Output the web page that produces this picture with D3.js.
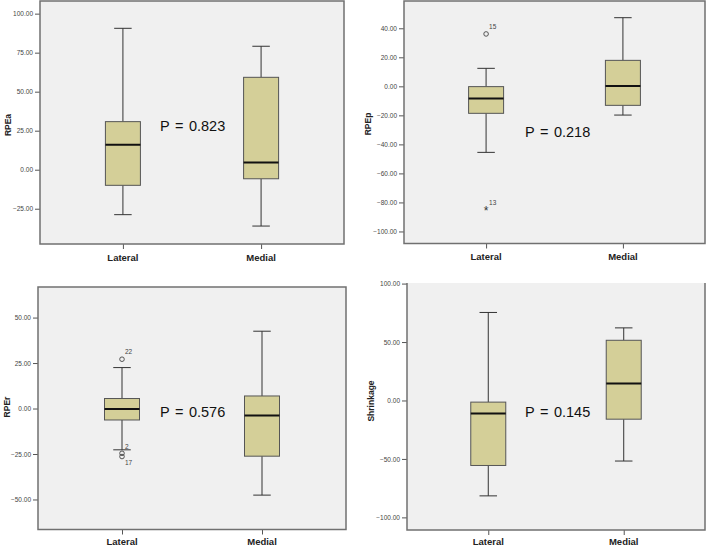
<!DOCTYPE html>
<html><head><meta charset="utf-8">
<script src="https://cdn.jsdelivr.net/npm/d3@7"></script>
<style>body{margin:0;background:#fff}svg{display:block}</style>
</head><body><svg id="c" width="709" height="546"></svg>
<script>
const groups = ["Lateral", "Medial"];
// [min whisker, Q1, median, Q3, max whisker]
const rpeaStats = [[-28.8, -10.0, 16.0, 30.8, 90.6], [-36.1, -5.8, 4.7, 59.2, 79.1]];
const rpepStats = [[-45.5, -18.6, -8.3, -0.2, 12.4], [-19.8, -13.1, 0.2, 17.9, 47.3]];
const rperStats = [[-22.7, -6.3, -0.2, 5.5, 22.5], [-47.6, -26.2, -3.8, 6.9, 42.5]];
const shrinkStats = [[-81.6, -55.6, -11.2, -1.4, 75.3], [-51.8, -16.0, 14.6, 51.5, 62.1]];
const rpeaOutliers = [];
const rpepOutliers = [{group: "Lateral", value: 36.1, label: "15", kind: "circle"}, {group: "Lateral", value: -85.3, label: "13", kind: "star"}];
const rperOutliers = [{group: "Lateral", value: 27.1, label: "22", kind: "circle"}, {group: "Lateral", value: -24.6, label: "2", kind: "circle"}, {group: "Lateral", value: -26.4, label: "17", kind: "circle"}];
const shrinkOutliers = [];
const rpeaTicks = [-25, 0, 25, 50, 75, 100];
const rpepTicks = [-100, -80, -60, -40, -20, 0, 20, 40];
const rperTicks = [-50, -25, 0, 25, 50];
const shrinkTicks = [-100, -50, 0, 50, 100];
const titles = ["RPEa", "RPEp", "RPEr", "Shrinkage"];
const pValues = ["P = 0.823", "P = 0.218", "P = 0.576", "P = 0.145"];

const panels = [
  {stats: rpeaStats, out: rpeaOutliers, ticks: rpeaTicks, title: titles[0], p: pValues[0],
   l: 40, r: 344, t: 1, b: 244, dom: [-47.6, 108.1], topLine: true, px: 160, py: 126, tx: 8, ty: 125, xly: 261},
  {stats: rpepStats, out: rpepOutliers, ticks: rpepTicks, title: titles[1], p: pValues[1],
   l: 404, r: 705, t: 1, b: 243.5, dom: [-108.3, 58.8], topLine: true, px: 525, py: 131.5, tx: 368, ty: 124, xly: 260},
  {stats: rperStats, out: rperOutliers, ticks: rperTicks, title: titles[2], p: pValues[2],
   l: 38, r: 346, t: 287, b: 529.5, dom: [-66.5, 66.8], topLine: true, px: 160, py: 411.5, tx: 7, ty: 407, xly: 545},
  {stats: shrinkStats, out: shrinkOutliers, ticks: shrinkTicks, title: titles[3], p: pValues[3],
   l: 407, r: 705, t: 283, b: 530, dom: [-110.8, 100.5], topLine: false, px: 525, py: 411.5, tx: 371, ty: 401, xly: 545}
];

const svg = d3.select("#c");
const boxW = 35;
const fmt = d3.format(".2f");

panels.forEach(P => {
  const g = svg.append("g");
  const y = d3.scaleLinear().domain(P.dom).range([P.b, P.t]);
  const x = d3.scalePoint().domain(groups).range([P.l, P.r]).padding(0.6);

  g.append("rect").attr("x", P.l).attr("y", P.t).attr("width", P.r - P.l).attr("height", P.b - P.t)
    .attr("fill", "#f0f0f0");

  const ya = g.append("g").attr("transform", `translate(${P.l},0)`)
    .call(d3.axisLeft(y).tickValues(P.ticks).tickFormat(fmt).tickSize(5).tickPadding(2));
  ya.select(".domain").remove();
  ya.selectAll("line").attr("stroke", "#555");
  ya.selectAll("text").attr("font-family", "Liberation Sans, Arial, sans-serif").attr("font-size", 6.5).attr("fill", "#444");

  const xa = g.append("g").attr("transform", `translate(0,${P.b})`)
    .call(d3.axisBottom(x).tickSize(5).tickPadding(3));
  xa.select(".domain").remove();
  xa.selectAll("line").attr("stroke", "#555");
  xa.selectAll("text").remove();
  groups.forEach(gr => {
    g.append("text").attr("x", x(gr)).attr("y", P.xly).attr("text-anchor", "middle")
      .attr("font-family", "Liberation Sans, Arial, sans-serif").attr("font-size", 9.5).attr("font-weight", "bold")
      .attr("fill", "#222").text(gr);
  });

  const fr = P.topLine ? `M${P.l},${P.t}H${P.r}V${P.b}H${P.l}Z` : `M${P.l},${P.t}V${P.b}H${P.r}V${P.t}`;
  g.append("path").attr("d", fr).attr("fill", "none").attr("stroke", "#707070").attr("stroke-width", 1.5);

  g.append("text").attr("transform", `translate(${P.tx},${P.ty}) rotate(-90)`).attr("text-anchor", "middle")
    .attr("dominant-baseline", "central")
    .attr("font-family", "Liberation Sans, Arial, sans-serif").attr("font-size", 8.5).attr("font-weight", "bold")
    .attr("fill", "#222").text(P.title);

  groups.forEach((gr, i) => {
    const s = P.stats[i];
    const cx = x(gr);
    g.append("line").attr("x1", cx).attr("x2", cx).attr("y1", y(s[4])).attr("y2", y(s[3])).attr("stroke", "#333");
    g.append("line").attr("x1", cx).attr("x2", cx).attr("y1", y(s[1])).attr("y2", y(s[0])).attr("stroke", "#333");
    [s[0], s[4]].forEach(v => g.append("line").attr("x1", cx - boxW / 4).attr("x2", cx + boxW / 4)
      .attr("y1", y(v)).attr("y2", y(v)).attr("stroke", "#333"));
    g.append("rect").attr("x", cx - boxW / 2).attr("y", y(s[3])).attr("width", boxW).attr("height", y(s[1]) - y(s[3]))
      .attr("fill", "#d4cf98").attr("stroke", "#555").attr("stroke-width", 1);
    g.append("line").attr("x1", cx - boxW / 2).attr("x2", cx + boxW / 2).attr("y1", y(s[2])).attr("y2", y(s[2]))
      .attr("stroke", "#111").attr("stroke-width", 2);
  });

  P.out.forEach(o => {
    const cx = x(o.group), cy = y(o.value);
    if (o.kind === "circle") {
      g.append("circle").attr("cx", cx).attr("cy", cy).attr("r", 2.3).attr("fill", "none").attr("stroke", "#444").attr("stroke-width", 0.9);
    } else {
      g.append("text").attr("x", cx).attr("y", cy + 5).attr("text-anchor", "middle")
        .attr("font-family", "Liberation Sans, Arial, sans-serif").attr("font-size", 12).attr("fill", "#333").text("*");
    }
  });
  P.out.forEach(o => {
    const cx = x(o.group), cy = y(o.value);
    let dy = -5;
    if (o.label === "17") dy = 8;
    if (o.label === "2") dy = -4;
    g.append("text").attr("x", cx + 3).attr("y", cy + dy)
      .attr("font-family", "Liberation Sans, Arial, sans-serif").attr("font-size", 6.5).attr("fill", "#444").text(o.label);
  });

  g.append("text").attr("x", P.px).attr("y", P.py).attr("dominant-baseline", "central")
    .attr("font-family", "Liberation Sans, Arial, sans-serif").attr("font-size", 14.5).attr("fill", "#111")
    .attr("word-spacing", 1.5)
    .text(P.p);
});
</script></body></html>
